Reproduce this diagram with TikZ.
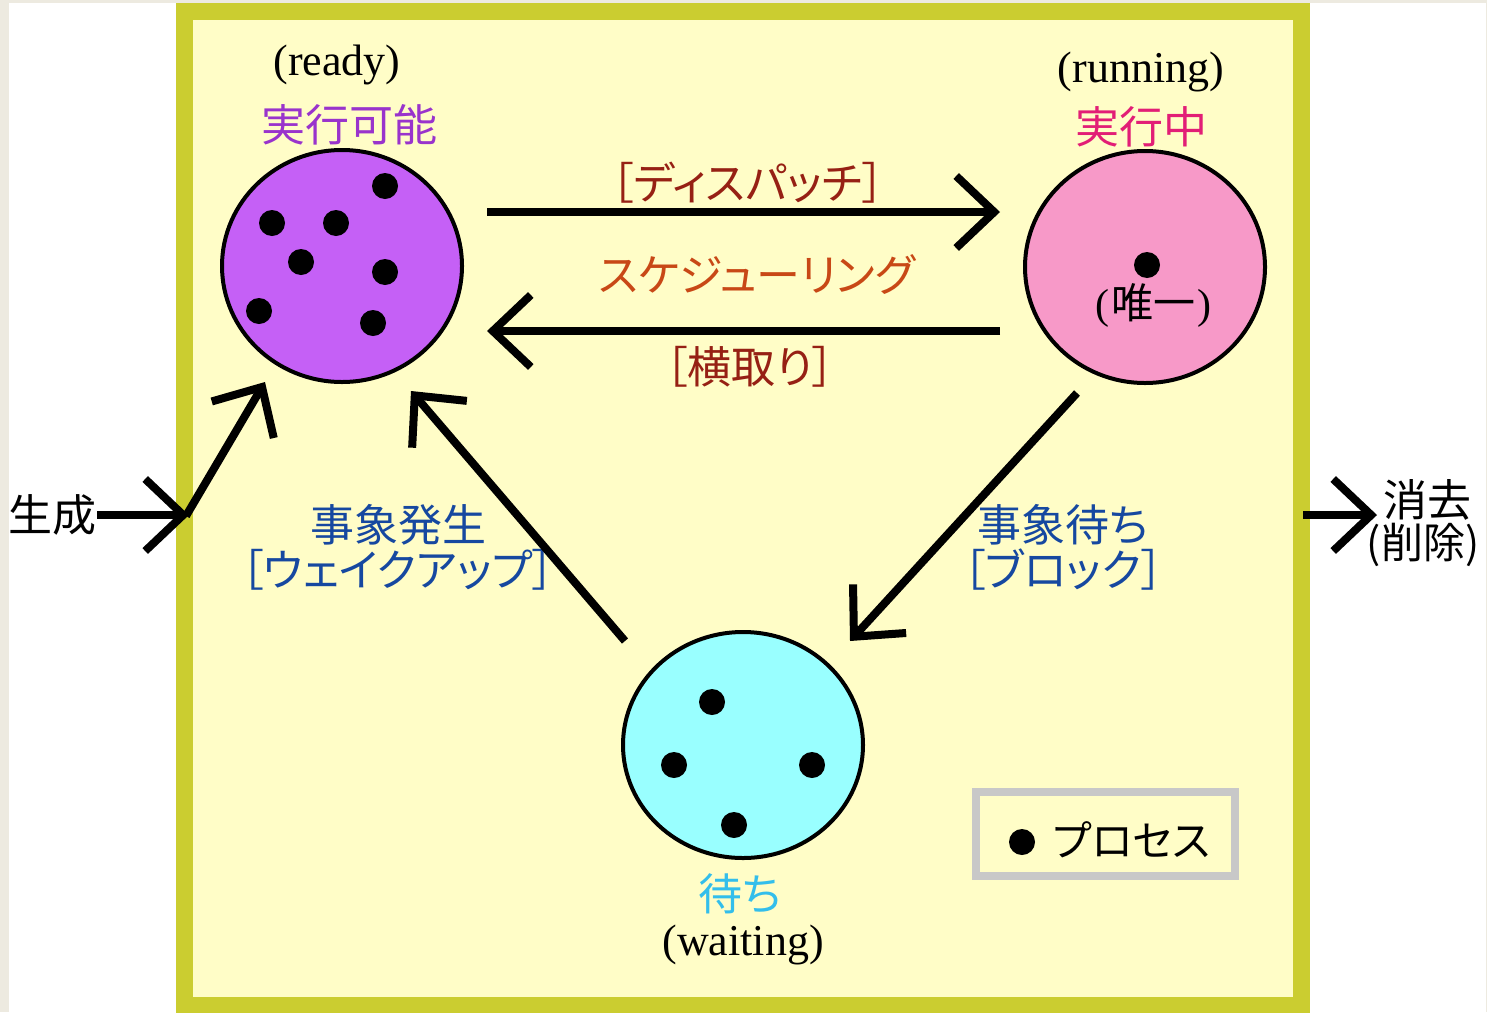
\documentclass[tikz,border=0pt]{standalone}
\usepackage{fontspec}
\setmainfont{Liberation Serif}
\newfontfamily\jp[RawFeature=+palt]{Noto Sans CJK JP}
\newfontfamily\jpf{Noto Sans CJK JP}
\usetikzlibrary{arrows.meta,shapes.geometric}
\definecolor{pagebg}{RGB}{237,234,224}
\definecolor{boxfill}{RGB}{255,253,199}
\definecolor{boxline}{RGB}{203,205,48}
\definecolor{readyfill}{RGB}{197,96,246}
\definecolor{readytxt}{RGB}{153,51,204}
\definecolor{runfill}{RGB}{247,153,200}
\definecolor{runtxt}{RGB}{226,30,118}
\definecolor{waitfill}{RGB}{153,255,255}
\definecolor{waittxt}{RGB}{51,190,235}
\definecolor{darkred}{RGB}{150,32,20}
\definecolor{schedtxt}{RGB}{200,72,22}
\definecolor{evblue}{RGB}{22,72,160}
\definecolor{legline}{RGB}{200,200,200}
\newcommand{\fs}[1]{\fontsize{#1}{#1}\selectfont}
\begin{document}
\begin{tikzpicture}[x=1pt,y=-1pt,
  state/.style={ellipse,draw=black,line width=4pt,inner sep=0pt,minimum width=240pt,minimum height=232pt},
  dot/.style={fill=black},
  arr/.style={line width=8pt,-{Straight Barb[length=38pt,width=72pt]}},
  lbl/.style={inner sep=0pt,anchor=center},
  en/.style={lbl,font=\fs{44}},
  jt/.style={lbl,font=\jp\fs{44}},
]
\useasboundingbox (0,0) rectangle (1487,1012);
\fill[pagebg] (0,0) rectangle (1487,1012);
\fill[white] (9,3) rectangle (1486,1012);
\draw[boxline,line width=17pt,fill=boxfill] (184.5,11.5) rectangle (1301.5,1005.5);

% states
\node[state,fill=readyfill] (ready) at (342,266) {};
\node[state,fill=runfill] (running) at (1145,267) {};
\node[state,fill=waitfill,minimum height=226pt] (waiting) at (743,745) {};

% processes
\foreach \p in {(385,186),(272,223),(336,223),(301,262),(385,272),(259,311),(373,323)}
  \fill[dot] \p circle (13pt);
\fill[dot] (1147,265) circle (13pt);
\foreach \p in {(712,702),(674,765),(812,765),(734,825)}
  \fill[dot] \p circle (13pt);
\node[lbl,font=\fs{42}] (only) at (1153,305) {(\kern2pt{\jpf 唯一}\kern2pt)};

% state labels
\node[en] (readyen) at (337,65) {(ready)};
\node[jt,text=readytxt] (readyjp) at (349,125) {実行可能};
\node[en] (runen) at (1141,72) {(running)};
\node[jt,text=runtxt] (runjp) at (1141,127) {実行中};
\node[jt,text=waittxt] (waitjp) at (740,894) {待ち};
\node[en] (waiten) at (743,945) {(waiting)};

% transition labels
\node[jt,text=darkred] (dispatch) at (748,183) {［ディスパッチ］};
\node[jt,text=schedtxt] (sched) at (757,275) {スケジューリング};
\node[jt,text=darkred] (preempt) at (750,367) {［横取り］};
\node[jt,text=evblue] (evocc) at (398,525) {事象発生};
\node[jt,text=evblue] (wakeup) at (398,570) {［ウェイクアップ］};
\node[jt,text=evblue] (evwait) at (1063,525) {事象待ち};
\node[jt,text=evblue] (block) at (1063,570) {［ブロック］};

% create / delete
\node[jt] (create) at (53,515) {生成};
\node[jt] (del1) at (1427,500) {消去};
\node[jt,font=\jp\fs{42}] (del2) at (1423,545) {(削除)};

% connector end points
\coordinate (dA) at (487,212);  \coordinate (dB) at (1000,212);
\coordinate (pA) at (1000,331); \coordinate (pB) at (487,331);
\coordinate (bA) at (1077,393); \coordinate (bB) at (850,641);
\coordinate (wA) at (625,641);  \coordinate (wB) at (411,391);
\coordinate (cA) at (97,515);   \coordinate (cB) at (189,515);
\coordinate (cC) at (186,516);  \coordinate (cD) at (265,382);
\coordinate (xA) at (1303,515); \coordinate (xB) at (1377,515);

\draw[arr] (dA) -- (dB);
\draw[arr] (pA) -- (pB);
\draw[arr] (bA) -- (bB);
\draw[arr] (wA) -- (wB);
\draw[arr] (cA) -- (cB);
\draw[arr] (cC) -- (cD);
\draw[arr] (xA) -- (xB);

% legend
\draw[legline,line width=8pt] (976,792) rectangle (1235,876);
\fill[dot] (1022,842) circle (13pt);
\node[jt,font=\jp\fs{42}] (legend) at (1132,840) {プロセス};
\end{tikzpicture}
\end{document}
